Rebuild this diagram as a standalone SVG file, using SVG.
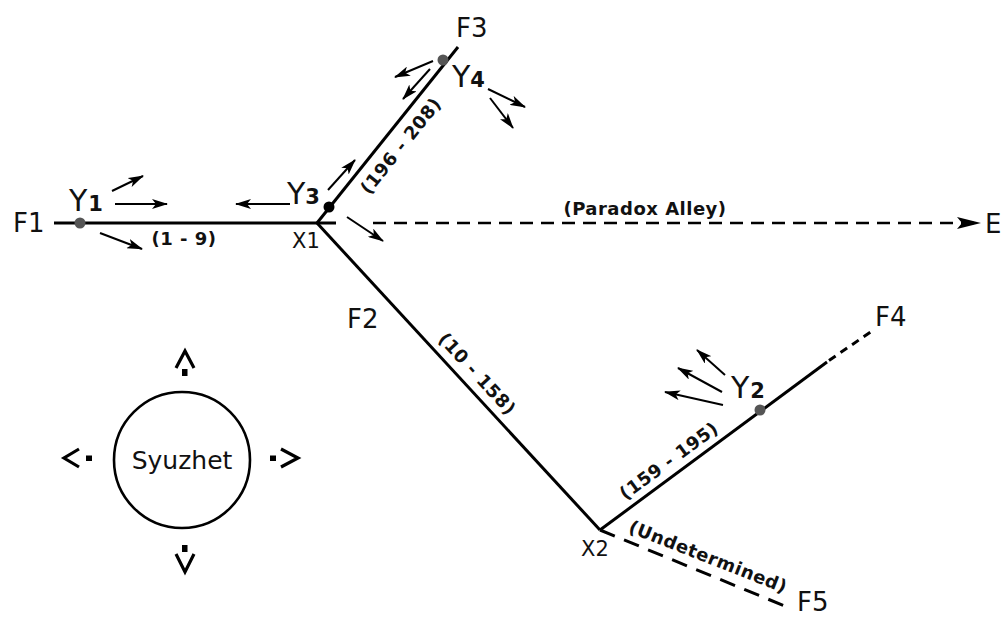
<svg xmlns="http://www.w3.org/2000/svg" width="1004" height="617" viewBox="0 0 1004 617">
<style>
.lbl{font-family:"DejaVu Sans","Liberation Sans",sans-serif;font-size:26px;fill:#111}
.x{font-family:"DejaVu Sans","Liberation Sans",sans-serif;font-size:21px;fill:#111}
.y{font-family:"DejaVu Sans","Liberation Sans",sans-serif;font-size:30px;fill:#111}
.sub{font-family:"DejaVu Sans","Liberation Sans",sans-serif;font-size:21px;font-weight:bold;fill:#111}
.rng{font-family:"DejaVu Sans","Liberation Sans",sans-serif;font-size:18px;font-weight:bold;fill:#111;text-anchor:middle;letter-spacing:0.5px}
.main{stroke:#000;stroke-width:3;fill:none}
.arr{stroke:#000;stroke-width:2;fill:none;marker-end:url(#ah)}
.sym{stroke:#000;stroke-width:3.2;fill:none;stroke-linejoin:miter}
</style>
<defs>
<marker id="ah" markerUnits="userSpaceOnUse" markerWidth="16" markerHeight="10" refX="15" refY="5" orient="auto">
<path d="M0,0 L16,5 L0,10 L4,5 Z" fill="#000"/>
</marker>
<marker id="ahE" markerUnits="userSpaceOnUse" markerWidth="24" markerHeight="12" refX="23" refY="6" orient="auto">
<path d="M0,0 L24,6 L0,12 L5,6 Z" fill="#000"/>
</marker>
</defs>

<g id="connectors">
<line class="main" x1="54" y1="223" x2="336" y2="223"/>
<line class="main" x1="317" y1="223" x2="458" y2="47"/>
<line class="main" x1="317" y1="223" x2="600" y2="530"/>
<line class="main" x1="600" y1="530" x2="827" y2="362"/>
<line class="main" x1="829" y1="360.5" x2="872" y2="331" stroke-dasharray="8 6"/>
<line class="main" x1="600" y1="530" x2="792" y2="609" stroke-dasharray="16 10"/>
<line x1="373" y1="223" x2="980" y2="223" stroke="#000" stroke-width="2.6" stroke-dasharray="13 8" marker-end="url(#ahE)"/>
<line class="arr" x1="112" y1="191" x2="143" y2="176"/>
<line class="arr" x1="115" y1="204" x2="167" y2="204"/>
<line class="arr" x1="100" y1="233" x2="142" y2="249"/>
<line class="arr" x1="290" y1="204" x2="236" y2="204"/>
<line class="arr" x1="328" y1="190" x2="355" y2="160"/>
<line class="arr" x1="347" y1="217" x2="383" y2="241"/>
<line class="arr" x1="433" y1="61" x2="395" y2="77"/>
<line class="arr" x1="430" y1="69" x2="403" y2="99"/>
<line class="arr" x1="488" y1="89" x2="525" y2="107"/>
<line class="arr" x1="490" y1="98" x2="513" y2="128"/>
<line class="arr" x1="725" y1="375" x2="697" y2="350"/>
<line class="arr" x1="722" y1="392" x2="678" y2="368"/>
<line class="arr" x1="723" y1="405" x2="665" y2="392"/>
</g>

<g id="F1"><text class="lbl" x="13" y="232">F1</text></g>
<g id="F2"><text class="lbl" x="347" y="328">F2</text></g>
<g id="F3"><text class="lbl" x="456" y="37">F3</text></g>
<g id="F4"><text class="lbl" x="875" y="326">F4</text></g>
<g id="F5"><text class="lbl" x="797" y="611">F5</text></g>
<g id="E"><text class="lbl" x="985" y="233">E</text></g>

<g id="X1"><text class="x" x="292" y="248">X1</text></g>
<g id="X2"><text class="x" x="581" y="556">X2</text></g>

<g id="Y1">
<circle cx="80" cy="223" r="5.5" fill="#555"/>
<text x="69" y="211"><tspan class="y">Y</tspan><tspan class="sub" dx="1">1</tspan></text>
</g>
<g id="Y3">
<circle cx="329" cy="207" r="5.5" fill="#000"/>
<text x="287" y="204"><tspan class="y">Y</tspan><tspan class="sub" dx="0">3</tspan></text>
</g>
<g id="Y4">
<circle cx="443" cy="60" r="5.5" fill="#555"/>
<text x="452" y="87"><tspan class="y">Y</tspan><tspan class="sub" dx="0">4</tspan></text>
</g>
<g id="Y2">
<circle cx="760" cy="410" r="5.5" fill="#555"/>
<text x="731" y="398"><tspan class="y">Y</tspan><tspan class="sub" dx="1">2</tspan></text>
</g>

<g id="ranges">
<text class="rng" x="184" y="245">(1 - 9)</text>
<text class="rng" transform="translate(401,146) rotate(-51.3)" y="6">(196 - 208)</text>
<text class="rng" transform="translate(477,374) rotate(47.3)" y="6">(10 - 158)</text>
<text class="rng" transform="translate(669,461) rotate(-36.3)" y="6">(159 - 195)</text>
<text class="rng" transform="translate(708,557) rotate(21.5)" y="6">(Undetermined)</text>
<text class="rng" x="645" y="215">(Paradox Alley)</text>
</g>

<g id="syuzhet">
<circle cx="182" cy="460" r="68" fill="none" stroke="#000" stroke-width="2.6"/>
<text x="182" y="469" text-anchor="middle" style="font-family:'DejaVu Sans','Liberation Sans',sans-serif;font-size:25px;fill:#111">Syuzhet</text>
<polyline class="sym" points="176,368 185,351 194,368"/>
<rect x="182" y="369" width="5.5" height="7" fill="#000"/>
<polyline class="sym" points="176,554 185,572 194,554"/>
<rect x="182" y="545" width="5.5" height="7" fill="#000"/>
<polyline class="sym" points="79,449 64,458 79,467"/>
<rect x="86" y="455.5" width="6" height="5.5" fill="#000"/>
<polyline class="sym" points="281,449 298,458 281,467"/>
<rect x="270" y="455.5" width="6" height="5.5" fill="#000"/>
</g>
</svg>
